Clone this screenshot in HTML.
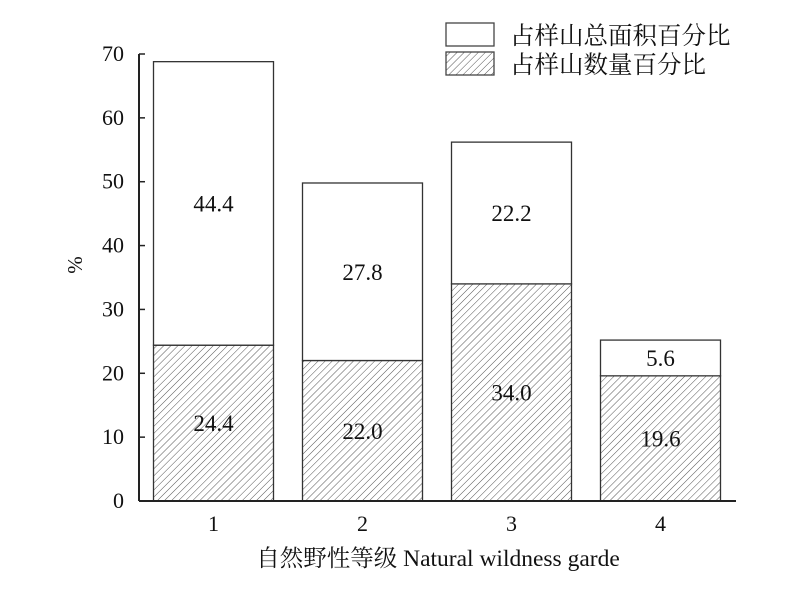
<!DOCTYPE html>
<html><head><meta charset="utf-8"><style>
body{margin:0;background:#fff}
svg text{font-family:"Liberation Serif","Noto Serif CJK SC",serif;fill:#111}
</style></head><body>
<svg id="chart" width="800" height="592" viewBox="0 0 800 592">
<defs><pattern id="hatch" patternUnits="userSpaceOnUse" width="5" height="5" patternTransform="rotate(45)">
<rect width="5" height="5" fill="#fff"/><line x1="0" y1="0" x2="0" y2="5" stroke="#555" stroke-width="1"/></pattern></defs>
<g id="bars"></g>
<g id="axes"></g>
<g>
<rect x="446" y="23" width="48" height="23" fill="#fff" stroke="#444" stroke-width="1.3"/>
<text x="510" y="44" font-size="24.5">占样山总面积百分比</text>
<rect x="446" y="52" width="48" height="23" fill="url(#hatch)" stroke="#444" stroke-width="1.3"/>
<text x="510" y="73" font-size="24.5">占样山数量百分比</text>
</g>
<text transform="translate(82,265) rotate(-90)" text-anchor="middle" font-size="21">%</text>
<text x="438" y="566" text-anchor="middle" font-size="23.5">自然野性等级 Natural wildness garde</text>
</svg>
<script>
const categories=["1","2","3","4"];
const countPct=[24.4,22.0,34.0,19.6];
const areaPct=[44.4,27.8,22.2,5.6];
const yTicks=[0,10,20,30,40,50,60,70];
const NS="http://www.w3.org/2000/svg";
const x0=139,band=149,barW=120,yBase=501,pxPerUnit=(501-54)/70;
const y=v=>yBase-v*pxPerUnit;
const xc=i=>x0+band*(i+0.5);
function mk(tag,attrs,parent){const e=document.createElementNS(NS,tag);for(const k in attrs)e.setAttribute(k,attrs[k]);parent.appendChild(e);return e;}
const bars=document.getElementById('bars'),axes=document.getElementById('axes');
categories.forEach((c,i)=>{
  const l=xc(i)-barW/2,b=countPct[i],t=b+areaPct[i];
  const r1=mk('rect',{x:l,y:y(b),width:barW,height:y(0)-y(b),fill:'url(#hatch)',stroke:'#333','stroke-width':1.3},bars);
  
  
  const r2=mk('rect',{x:l,y:y(t),width:barW,height:y(b)-y(t),fill:'#fff',stroke:'#333','stroke-width':1.3},bars);
  
  
  const t1=mk('text',{x:xc(i),y:y(b/2)+8,'text-anchor':'middle','font-size':23},bars);t1.textContent=b.toFixed(1);
  
  
  const t2=mk('text',{x:xc(i),y:y((b+t)/2)+8,'text-anchor':'middle','font-size':23},bars);t2.textContent=areaPct[i].toFixed(1);
  
  
  const xl=mk('text',{x:xc(i),y:531,'text-anchor':'middle','font-size':22},axes);xl.textContent=c;
  
  
});
const ya=mk('line',{x1:x0,y1:y(70),x2:x0,y2:yBase,stroke:'#222','stroke-width':2},axes);


const xa=mk('line',{x1:x0,y1:yBase,x2:736,y2:yBase,stroke:'#222','stroke-width':2},axes);


yTicks.forEach(v=>{
  const tk=mk('line',{x1:x0,y1:y(v),x2:x0+6,y2:y(v),stroke:'#222','stroke-width':1.5},axes);
  
  
  const tl=mk('text',{x:x0-15,y:y(v)+7,'text-anchor':'end','font-size':22},axes);tl.textContent=v;
  
  
});
</script>
</body></html>
